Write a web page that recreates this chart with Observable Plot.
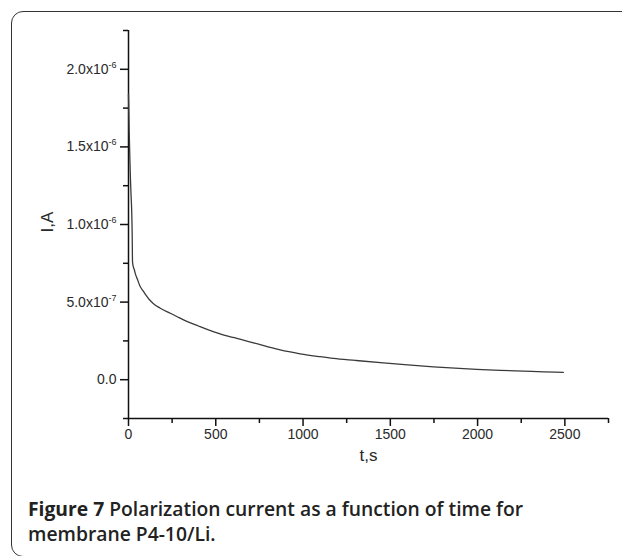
<!DOCTYPE html>
<html><head><meta charset="utf-8">
<script src="https://cdn.jsdelivr.net/npm/d3@7"></script>
<script src="https://cdn.jsdelivr.net/npm/@observablehq/plot@0.6"></script>
<style>
html,body{margin:0;background:#fff;overflow:hidden;}
body{width:622px;height:556px;position:relative;}
#frame{position:absolute;left:11px;top:11px;width:720px;height:546px;border:1.5px solid #333;border-radius:12px;box-sizing:border-box;}
#chart{position:absolute;left:0;top:0;}
#caption{position:absolute;left:28px;top:496px;font-family:"Open Sans",sans-serif;font-size:19.3px;line-height:25px;font-weight:600;color:#222;white-space:nowrap;}
#caption b{font-weight:700;}
</style></head><body>
<div id="frame"></div>
<div id="chart"></div>
<div id="caption"><b>Figure 7</b> Polarization current as a function of time for<br>membrane P4-10/Li.</div>
<script>
// time (s) and polarization current (A)
const timeS = [0, 4, 8, 11, 15, 18, 21, 23, 27, 33, 40, 50, 67, 85, 100, 120, 143, 180, 239, 290, 334, 400, 458, 525, 600, 716, 800, 869, 983, 1098, 1174, 1300, 1460, 1600, 1747, 1870, 1995, 2130, 2262, 2380, 2491];
const currentA = [1.84e-6, 1.60e-6, 1.42e-6, 1.30e-6, 1.18e-6, 1.10e-6, 0.95e-6, 0.76e-6, 0.73e-6, 0.71e-6, 0.68e-6, 0.65e-6, 0.60e-6, 0.57e-6, 0.545e-6, 0.515e-6, 0.49e-6, 0.462e-6, 0.428e-6, 0.40e-6, 0.376e-6, 0.346e-6, 0.321e-6, 0.296e-6, 0.272e-6, 0.238e-6, 0.212e-6, 0.192e-6, 0.167e-6, 0.148e-6, 0.137e-6, 0.124e-6, 0.108e-6, 0.095e-6, 0.083e-6, 0.074e-6, 0.066e-6, 0.060e-6, 0.055e-6, 0.051e-6, 0.047e-6];

const xDomain = [0, 2750];
const yDomain = [-2.5e-7, 2.25e-6];
const xMajorTicks = [0, 500, 1000, 1500, 2000, 2500];
const xMinorTicks = [250, 750, 1250, 1750, 2250, 2750];
const yMajorTicks = [0, 5e-7, 1e-6, 1.5e-6, 2e-6];
const yTickLabels = ["0.0", "5.0x10^-7", "1.0x10^-6", "1.5x10^-6", "2.0x10^-6"];
const yMinorTicks = [-2.5e-7, 2.5e-7, 7.5e-7, 1.25e-6, 1.75e-6, 2.25e-6];
const xLabel = "t,s";
const yLabel = "I,A";

const data = timeS.map((t, i) => ({t, I: currentA[i]}));
const axisColor = "#111";

const plot = Plot.plot({
  width: 622, height: 480,
  marginLeft: 128, marginTop: 30, marginRight: 14, marginBottom: 62,
  style: {fontFamily: '"Liberation Sans", Arial, sans-serif', fontSize: "14px", color: "#2a2a2a", background: "transparent", overflow: "visible"},
  x: {domain: xDomain, label: null},
  y: {domain: yDomain, label: null},
  marks: [
    Plot.axisX({ticks: xMajorTicks, tickSize: 8, tickPadding: 3, strokeWidth: 1.5, stroke: axisColor, tickFormat: d => String(d), label: null}),
    Plot.axisX({ticks: xMinorTicks, tickSize: 5, strokeWidth: 1.5, stroke: axisColor, fill: "none", label: null}),
    Plot.axisY({ticks: yMajorTicks, tickSize: 8, tickPadding: 4, strokeWidth: 1.5, stroke: axisColor, tickFormat: d => yTickLabels[yMajorTicks.indexOf(d)], label: null}),
    Plot.axisY({ticks: yMinorTicks, tickSize: 5, strokeWidth: 1.5, stroke: axisColor, fill: "none", label: null}),
    Plot.ruleX([xDomain[0]], {stroke: axisColor, strokeWidth: 1.5}),
    Plot.ruleY([yDomain[0]], {stroke: axisColor, strokeWidth: 1.5}),
    Plot.line(data, {x: "t", y: "I", stroke: "#3a3a3a", strokeWidth: 1.3, curve: "monotone-x"}),
    Plot.text([xLabel], {frameAnchor: "bottom", dy: 42, fontSize: 17, fill: "#2a2a2a"}),
    Plot.text([yLabel], {frameAnchor: "left", dx: -81, dy: 8, rotate: -90, fontSize: 17, fill: "#2a2a2a"})
  ]
});

// render "x10^-6" as a superscript exponent
plot.querySelectorAll("text").forEach(el => {
  const s = el.textContent;
  if (s.includes("^")) {
    const [base, exp] = s.split("^");
    el.textContent = "";
    const t1 = document.createElementNS("http://www.w3.org/2000/svg", "tspan");
    t1.textContent = base;
    const t2 = document.createElementNS("http://www.w3.org/2000/svg", "tspan");
    t2.textContent = exp;
    t2.setAttribute("dy", "-6");
    t2.setAttribute("font-size", "9");
    el.appendChild(t1);
    el.appendChild(t2);
  }
});
document.getElementById("chart").appendChild(plot);
</script>
</body></html>
